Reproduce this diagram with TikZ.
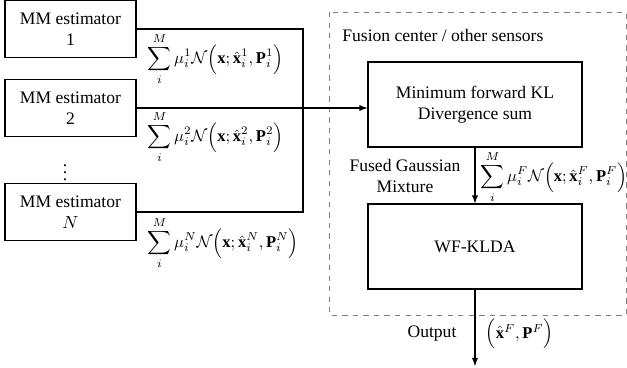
\documentclass[tikz,border=0pt]{standalone}
\usepackage{amsmath}
\usepackage{fontspec}
\setmainfont{Liberation Serif}
\usepackage{xcolor}
\usetikzlibrary{positioning, arrows}

\tikzset{
  estbox/.style = {draw, line width=0.6pt, align=center, minimum width=2.62cm, minimum height=1.14cm, inner sep=0pt},
  procbox/.style = {draw, line width=0.6pt, align=center, minimum width=4.28cm, minimum height=1.7cm, inner sep=0pt},
  mixlabel/.style = {anchor=west, inner sep=0pt, scale=0.94}
}

\newcommand{\gmix}[1]{$\displaystyle\sum_{i}^{M}\mu_i^{#1}\mathcal{N}\Bigl(\mathbf{x};\hat{\mathbf{x}}_i^{#1},\mathbf{P}_i^{#1}\Bigr)$}

\begin{document}
\begin{tikzpicture}[x=0.02cm, y=-0.02cm, >=latex, line width=0.6pt]
\useasboundingbox (0,0) rectangle (627,368);
% local estimators
\node [estbox] (mm1) at (70.5,29) {MM estimator\\1};
\node [estbox] (mm2) at (70.5,108) {MM estimator\\2};
\node (dots) at (65,167) {$\vdots$};
\node [estbox] (mmN) at (70.5,212) {MM estimator\\$N$};
\node [mixlabel] (mix1) at (147,59) {\gmix{1}};
\node [mixlabel] (mix2) at (147,137) {\gmix{2}};
\node [mixlabel] (mixN) at (147,243) {\gmix{N}};
% fusion center
\draw [dashed, gray, line width=0.5pt] (329,12) rectangle (626,315);
\node [anchor=west] (fusion) at (336,35) {Fusion center / other sensors};
\node [procbox] (kl) at (475,104.5) {Minimum forward KL\\Divergence sum};
\node [procbox] (wf) at (475,246.5) {WF-KLDA};
\node [align=center] (fused) at (405,176) {Fused Gaussian\\Mixture};
\node [mixlabel] (mixF) at (480,177) {\gmix{F}};
\node (output) at (432,334) {Output};
\node [anchor=west, scale=0.94] (est) at (480,334) {$\Bigl(\hat{\mathbf{x}}^{F},\mathbf{P}^{F}\Bigr)$};
\coordinate (bus1) at (303,29);
\coordinate (busN) at (303,212);
\coordinate (out) at (475,366);
\draw (mm1.east) -- (bus1) -- (busN) -- (mmN.east);
\draw [->] (mm2.east) -- (mm2.east -| kl.west);
\draw [->] (kl) -- (wf);
\draw [->] (wf) -- (out);
\end{tikzpicture}
\end{document}
